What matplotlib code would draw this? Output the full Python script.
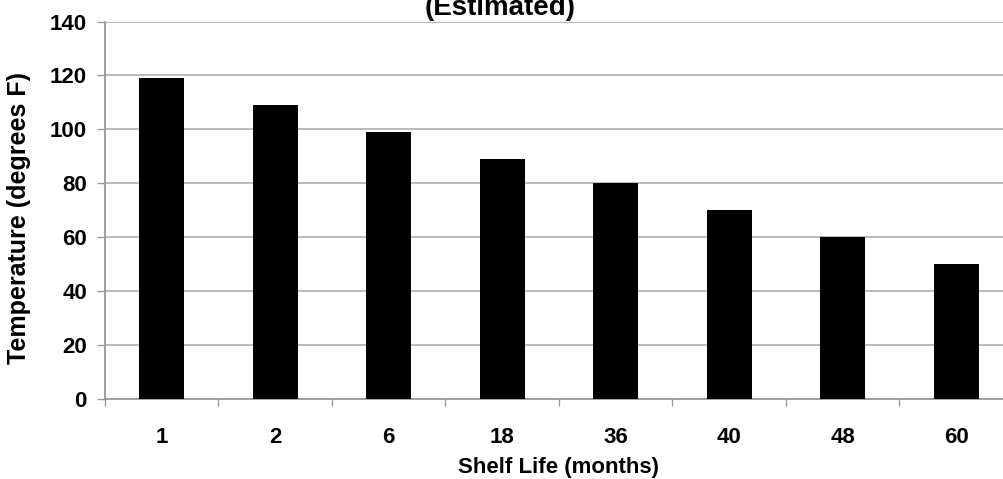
import matplotlib.pyplot as plt
import numpy as np

plt.rcParams['font.family'] = ['Liberation Sans', 'DejaVu Sans']

shelf_life = ["1", "2", "6", "18", "36", "40", "48", "60"]
temperature = [119, 109, 99, 89, 80, 70, 60, 50]
y_ticks = [0, 20, 40, 60, 80, 100, 120, 140]

W, H = 1004, 479
fig = plt.figure(figsize=(W / 100, H / 100), dpi=100)
ax = fig.add_axes([105 / W, 1 - 399 / H, 908 / W, (399 - 21.5) / H])

x = np.arange(len(shelf_life))
ax.bar(x, temperature, width=0.4, color="black", zorder=3)

ax.set_xlim(-0.5, len(shelf_life) - 0.5)
ax.set_ylim(0, 140)
ax.set_yticks(y_ticks)
ax.set_yticklabels([str(v) for v in y_ticks], fontsize=16, fontweight="bold")
ax.set_xticks(x)
ax.set_xticklabels(shelf_life, fontsize=16, fontweight="bold")
ax.set_xticks(np.arange(len(shelf_life) + 1) - 0.5, minor=True)
ax.tick_params(axis="x", which="major", length=0, pad=20)
ax.tick_params(axis="x", which="minor", length=5, color="#999999", width=1)
ax.tick_params(axis="y", length=6, color="#999999", width=1, pad=7)

ax.grid(axis="y", color="#b4b4b4", linewidth=1.3, zorder=0)
for s in ["top", "right"]:
    ax.spines[s].set_visible(False)
ax.spines["left"].set_color("#999999")
ax.spines["bottom"].set_color("#999999")
ax.spines["left"].set_linewidth(1.3)
ax.spines["bottom"].set_linewidth(1.3)

ax.set_xlabel("Shelf Life (months)", fontsize=16, fontweight="bold", labelpad=7)
ax.set_ylabel("Temperature (degrees F)", fontsize=18, fontweight="bold")
ax.yaxis.set_label_coords(-0.081, 0.48)

# top line of the title is cut off in the reference, only "(Estimated)" shows
fig.text(500 / W, 1 - 15 / H, "(Estimated)", fontsize=20, fontweight="bold",
         ha="center", va="baseline")

fig.savefig("out.png", dpi=100)
